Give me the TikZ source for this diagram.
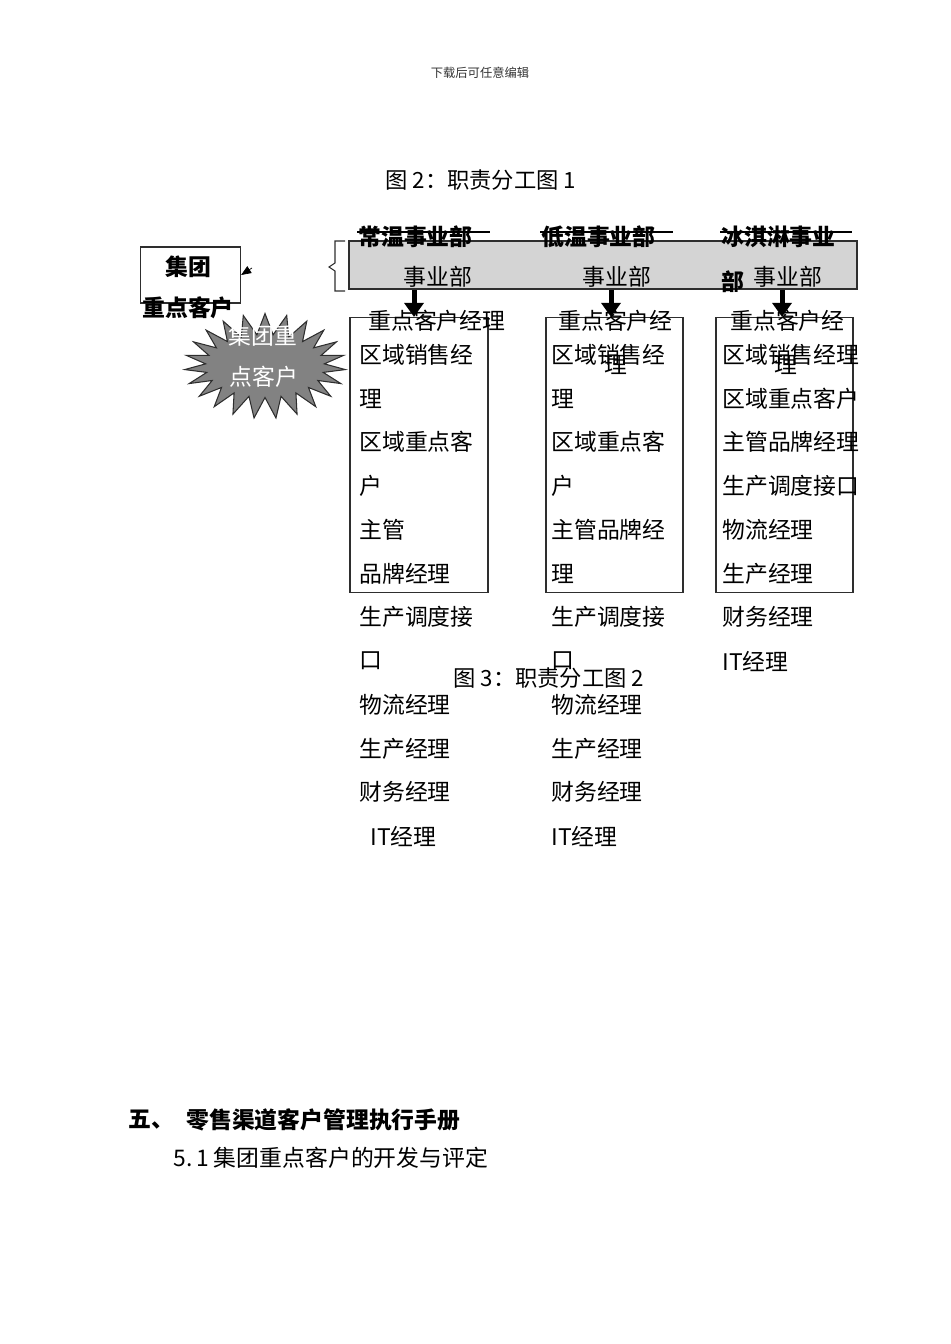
\documentclass[tikz,border=0pt]{standalone}
\usepackage{fontspec}
\setmainfont{Noto Sans CJK SC}
\usetikzlibrary{arrows.meta,shapes.symbols}

\definecolor{deptgray}{HTML}{D4D4D4}
\definecolor{burstgray}{HTML}{828282}
\definecolor{edgegray}{HTML}{2E2E2E}

\tikzset{
  px/.style={x=0.02cm,y=-0.02cm},
  txt/.style={inner sep=0pt,anchor=west,font=\fontsize{13pt}{15pt}\selectfont},
  ctxt/.style={txt,anchor=center},
  btxt/.style={txt,font=\fontsize{13pt}{15pt}\selectfont\bfseries},
  captxt/.style={txt,font=\fontsize{12.7pt}{14pt}\selectfont},
  colbox/.style={draw=edgegray,line width=0.7pt,minimum height=5.5cm,inner sep=0pt},
  bigarrow/.style={line width=0.1cm,-{Triangle[width=0.38cm,length=0.28cm]}},
  smallarrow/.style={line width=0.4pt,-{Triangle[width=0.16cm,length=0.2cm]}},
  burst/.style={starburst,starburst points=23,starburst point height=0.42cm,
    random starburst=0,fill=burstgray,draw=edgegray,line width=0.6pt,
    minimum width=3.22cm,minimum height=2.1cm,inner sep=0pt},
}

\begin{document}
\begin{tikzpicture}[px]
                \useasboundingbox (0,0) rectangle (950,1344);
                {
                
                % Page header and caption
                \node[ctxt,font=\fontsize{7pt}{8pt}\selectfont,text=black!80] (head) at (480,73) {下载后可任意编辑};%
                \node[captxt] (cap2) at (385,180) {图 2：职责分工图 1};%
                
                % Drawing box for group key accounts
                \node[draw=edgegray,line width=0.7pt,minimum width=2cm,minimum height=1.12cm] (grp) at (190.5,275) {};%
                \node[btxt,anchor=center] (grp-a) at (188,267) {集团};%
                \node[btxt,anchor=center] (grp-b) at (188,308) {重点客户};%
                \coordinate (grp-in) at (252,268);%
                \draw[smallarrow] (grp-in) -- (grp.east);%
                
                % Drawing starburst
                \node[burst] (burst) at (265,366) {};%
                \node[ctxt,text=white] (burst-a) at (263,336) {集团重};%
                \node[ctxt,text=white] (burst-b) at (264,377) {点客户};%
                
                % Drawing brace and grey bar of divisions
                \draw[edgegray,line width=0.6pt] (345,241) -- (335,241) -- (335,263) -- (329,267) -- (335,271) -- (335,291) -- (345,291);%
                \node[draw=edgegray,fill=deptgray,line width=0.7pt,minimum width=10.16cm,minimum height=0.96cm] (bu) at (603,265) {};%
                \draw[line width=0.6pt] (357,232) -- (490,232);%
                \draw[line width=0.6pt] (540,232) -- (673,232);%
                \draw[line width=0.6pt] (720,232) -- (852,232);%
                \node[btxt] (dept-a) at (358,237) {常温事业部};%
                \node[btxt] (dept-b) at (541,237) {低温事业部};%
                \node[btxt] (dept-c) at (721,237) {冰淇淋事业};%
                \node[btxt] (dept-d) at (721,282) {部};%
                \node[txt] (bu-a) at (403,277) {事业部};%
                \node[txt] (bu-b) at (582,277) {事业部};%
                \node[txt] (bu-c) at (753,277) {事业部};%
                
                % Drawing boxes of managers
                \node[colbox,minimum width=2.76cm] (box1) at (419,455) {};%
                \node[colbox,minimum width=2.74cm] (box2) at (614.5,455) {};%
                \node[colbox,minimum width=2.74cm] (box3) at (784.5,455) {};%
                \draw[bigarrow] ([xshift=-0.1cm]box1.north |- bu.south) -- ([xshift=-0.1cm]box1.north);%
                \draw[bigarrow] ([xshift=-0.07cm]box2.north |- bu.south) -- ([xshift=-0.07cm]box2.north);%
                \draw[bigarrow] ([xshift=-0.05cm]box3.north |- bu.south) -- ([xshift=-0.05cm]box3.north);%
                
                % Column of normal temperature division
                \node[txt] (a0) at (368,321) {重点客户经理};%
                \node[txt] (a1) at (359,355) {区域销售经};%
                \node[txt] (a2) at (359,399) {理};%
                \node[txt] (a3) at (359,442) {区域重点客};%
                \node[txt] (a4) at (359,486) {户};%
                \node[txt] (a5) at (359,530) {主管};%
                \node[txt] (a6) at (359,574) {品牌经理};%
                \node[txt] (a7) at (359,617) {生产调度接};%
                \node[txt] (a8) at (359,661) {口};%
                \node[txt] (a9) at (359,705) {物流经理};%
                \node[txt] (a10) at (359,749) {生产经理};%
                \node[txt] (a11) at (359,792) {财务经理};%
                \node[txt] (a12) at (370,836) {IT经理};%
                
                % Column of low temperature division
                \node[txt] (b0) at (558,321) {重点客户经};%
                \node[ctxt] (b0x) at (616,365) {理};%
                \node[txt] (b1) at (551,355) {区域销售经};%
                \node[txt] (b2) at (551,399) {理};%
                \node[txt] (b3) at (551,442) {区域重点客};%
                \node[txt] (b4) at (551,486) {户};%
                \node[txt] (b5) at (551,530) {主管品牌经};%
                \node[txt] (b6) at (551,574) {理};%
                \node[txt] (b7) at (551,617) {生产调度接};%
                \node[txt] (b8) at (551,661) {口};%
                \node[txt] (b9) at (551,705) {物流经理};%
                \node[txt] (b10) at (551,749) {生产经理};%
                \node[txt] (b11) at (551,792) {财务经理};%
                \node[txt] (b12) at (551,836) {IT经理};%
                
                % Column of ice cream division
                \node[txt] (c0) at (730,321) {重点客户经};%
                \node[ctxt] (c0x) at (786,365) {理};%
                \node[txt] (c1) at (722,355) {区域销售经理};%
                \node[txt] (c2) at (722,399) {区域重点客户};%
                \node[txt] (c3) at (722,442) {主管品牌经理};%
                \node[txt] (c4) at (722,486) {生产调度接口};%
                \node[txt] (c5) at (722,530) {物流经理};%
                \node[txt] (c6) at (722,574) {生产经理};%
                \node[txt] (c7) at (722,617) {财务经理};%
                \node[txt] (c8) at (722,661) {IT经理};%
                
                % Second caption and following section
                \node[captxt] (cap3) at (453,678) {图 3：职责分工图 2};%
                \node[btxt] (sec5) at (128,1120) {五、};%
                \node[btxt] (sec5t) at (186,1120) {零售渠道客户管理执行手册};%
                \node[txt] (sub51) at (173,1158) {5.\,1 集团重点客户的开发与评定};%
                }
\end{tikzpicture}
\end{document}
